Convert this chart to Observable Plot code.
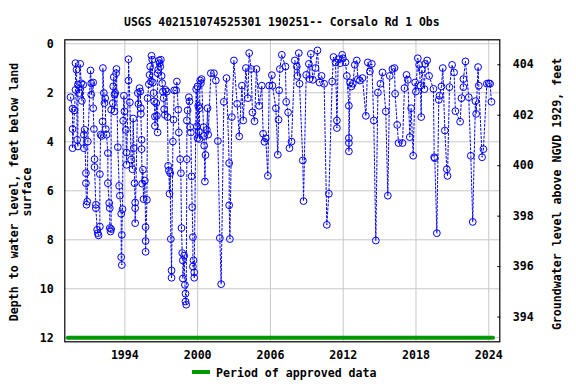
<!DOCTYPE html>
<html><head><meta charset="utf-8">
<script src="https://cdn.jsdelivr.net/npm/d3@7"></script>
<script src="https://cdn.jsdelivr.net/npm/@observablehq/plot@0.6"></script>
<style>
html,body{margin:0;padding:0;background:#fff;}
#wrap{position:relative;width:576px;height:384px;overflow:hidden;background:#fff;}
#wrap svg{position:absolute;left:0;top:0;}
</style></head><body><div id="wrap"></div>
<script>
// ---- data (decimal year, depth to water in feet below land surface) ----
const years = [
1989.52,1989.69,1989.69,1989.69,1989.85,1989.93,1989.93,1990.02,1990.07,1990.13,
1990.13,1990.26,1990.32,1990.40,1990.46,1990.57,1990.62,1990.62,1990.68,1990.79,
1990.79,1990.84,1990.90,1990.95,1991.17,1991.23,1991.23,1991.39,1991.39,1991.45,
1991.50,1991.50,1991.61,1991.61,1991.72,1991.77,1991.83,1991.94,1991.94,1992.00,
1992.10,1992.16,1992.19,1992.27,1992.32,1992.38,1992.43,1992.49,1992.60,1992.60,
1992.71,1992.76,1992.76,1992.82,1992.87,1992.87,1993.01,1993.04,1993.09,1993.15,
1993.15,1993.20,1993.28,1993.31,1993.42,1993.53,1993.59,1993.70,1993.70,1993.75,
1993.75,1993.81,1993.86,1993.92,1993.97,1994.08,1994.14,1994.14,1994.30,1994.30,
1994.41,1994.52,1994.63,1994.69,1994.74,1994.80,1994.85,1994.85,1994.85,1995.07,
1995.12,1995.21,1995.27,1995.32,1995.32,1995.38,1995.38,1995.43,1995.49,1995.54,
1995.65,1995.71,1995.71,1995.71,1995.82,1995.87,1995.98,1996.04,1996.09,1996.15,
1996.20,1996.26,1996.31,1996.37,1996.42,1996.48,1996.48,1996.59,1996.64,1996.70,
1996.70,1996.75,1996.81,1996.86,1996.92,1996.97,1997.03,1997.08,1997.14,1997.19,
1997.24,1997.30,1997.35,1997.46,1997.52,1997.57,1997.63,1997.68,1997.74,1997.79,
1997.85,1997.85,1997.96,1998.01,1998.07,1998.23,1998.29,1998.40,1998.45,1998.56,
1998.62,1998.67,1998.73,1998.78,1998.78,1998.89,1998.95,1999.00,1999.00,1999.06,
1999.11,1999.11,1999.17,1999.28,1999.33,1999.39,1999.44,1999.50,1999.55,1999.61,
1999.61,1999.66,1999.72,1999.72,1999.88,1999.94,1999.99,1999.99,2000.05,2000.10,
2000.16,2000.16,2000.21,2000.27,2000.32,2000.49,2000.54,2000.54,2000.60,2000.65,
2000.76,2000.82,2000.87,2001.09,
2001.34,2001.50,2001.67,2001.83,2001.94,2002.16,2002.38,2002.60,2002.60,2002.66,
2002.82,2002.99,2003.26,2003.43,2003.65,2003.76,2003.98,2004.14,2004.25,2004.41,
2004.52,2004.69,2004.85,2005.07,2005.29,2005.40,2005.51,2005.62,2005.79,2005.90,
2006.12,2006.17,2006.45,2006.61,2006.67,2006.72,2006.78,2006.94,
2007.24,2007.30,2007.46,2007.57,2007.74,2008.01,2008.18,2008.23,2008.34,2008.40,
2008.67,2008.73,2008.95,2009.17,2009.22,2009.33,2009.50,2009.72,2009.88,2010.05,
2010.21,2010.43,2010.65,2010.82,2011.09,2011.20,2011.37,2011.48,2011.48,2011.59,
2011.75,2011.92,2011.97,2012.19,2012.30,2012.47,2012.47,2012.47,2012.47,2012.57,
2012.68,2012.79,2012.96,2013.12,
2013.21,2013.37,2013.59,2013.87,2014.03,2014.20,2014.36,2014.52,2014.69,2014.86,
2015.07,2015.24,2015.51,2015.68,2015.84,2016.06,2016.23,2016.28,2016.45,2016.56,
2016.89,2017.05,2017.22,2017.33,2017.49,2017.60,2017.77,2017.93,2017.99,2018.15,
2018.26,2018.37,2018.43,2018.48,2018.70,2018.76,2018.92,2019.08,
2019.44,2019.50,2019.55,2019.72,2019.88,2019.94,2020.10,2020.21,2020.38,2020.54,
2020.60,2020.76,2020.98,2021.14,2021.25,2021.64,2021.75,2021.91,2021.91,2022.08,
2022.35,2022.52,2022.68,2022.90,2022.96,2023.12,2023.18,2023.45,2023.56,2023.84,
2024.00,2024.11,2024.22
];
const depths = [
2.18,2.65,3.48,4.26,2.72,1.88,0.79,1.06,3.92,4.19,
1.67,2.01,0.82,1.61,2.33,1.67,3.71,4.26,3.51,5.28,
5.69,6.57,6.44,3.99,1.09,1.61,2.08,1.58,2.63,3.48,
4.71,5.03,6.57,6.71,7.59,7.73,7.82,7.46,5.32,3.71,
3.76,3.17,0.99,2.01,2.42,2.22,3.48,3.71,4.46,5.69,
6.50,6.71,7.52,7.66,7.56,2.69,2.42,1.74,1.36,2.08,
2.76,2.01,1.20,1.03,4.22,5.80,6.20,6.94,8.71,9.03,
7.80,6.75,3.14,2.12,2.76,3.51,4.44,4.94,1.50,0.63,
2.39,4.73,5.12,3.05,4.26,5.69,6.48,6.71,7.32,2.01,
2.46,1.81,1.95,2.63,2.86,3.92,4.30,5.71,5.14,6.34,
5.58,7.48,8.05,8.49,6.37,2.22,1.65,1.27,0.93,1.54,
0.49,0.65,1.58,2.01,2.35,2.97,3.35,2.42,2.94,3.62,
1.20,1.06,0.68,0.79,0.93,0.65,1.31,1.61,1.95,2.22,
2.67,2.90,1.88,1.95,2.99,4.98,5.17,6.12,5.28,7.97,
9.25,9.55,3.99,3.10,1.90,1.90,1.54,2.69,3.62,4.71,
5.28,7.52,8.54,8.84,9.58,8.65,9.84,10.20,10.52,10.65,
4.71,3.13,2.72,2.18,2.35,3.40,3.62,5.41,6.67,7.89,
9.09,8.84,9.33,9.55,1.85,3.37,3.85,1.74,2.53,3.58,
3.89,2.63,1.50,1.61,1.44,3.40,3.76,4.16,5.62,4.54,
3.51,2.63,3.71,1.20,
1.20,1.50,3.97,7.93,9.81,2.37,1.40,4.87,6.59,7.97,
2.99,0.68,2.45,3.78,1.71,3.13,0.99,2.22,0.38,1.03,
2.80,3.16,1.03,2.53,1.71,3.67,4.00,3.86,5.39,1.71,
1.28,1.71,2.63,4.53,3.10,1.90,1.03,0.45,
0.93,2.37,2.80,4.26,3.99,0.68,0.93,1.31,0.38,1.63,
4.76,6.42,1.27,0.82,1.44,0.41,1.47,0.99,0.27,1.58,
1.31,1.63,7.39,6.12,1.54,0.54,0.76,3.13,3.44,0.63,
0.79,0.45,0.59,0.76,1.31,2.53,3.85,4.05,4.39,1.58,
1.74,1.63,0.86,0.68,
1.44,1.50,1.40,2.94,0.76,1.13,0.82,3.13,8.03,1.99,
1.63,1.17,2.76,6.20,1.31,1.03,0.99,2.04,3.31,4.05,
4.05,1.81,1.27,1.47,3.81,2.63,4.57,1.58,1.95,0.59,
0.86,1.71,2.99,1.06,1.85,0.82,0.68,1.31,
1.84,4.63,4.67,7.73,2.29,2.12,1.74,0.99,3.54,5.12,
5.39,1.77,0.86,1.17,2.75,3.18,2.22,1.77,1.44,0.72,
2.18,4.57,7.27,2.34,2.86,0.95,1.71,4.63,4.30,1.63,
1.61,1.63,2.37
];
// period of approved data
const periodStart = 1989.3, periodEnd = 2024.35, periodDepth = 12;
// axis ticks
const xTicks = [1994, 2000, 2006, 2012, 2018, 2024];
const depthTicks = [0, 2, 4, 6, 8, 10, 12];
const elevTicks = [394, 396, 398, 400, 402, 404];
const titleText = "USGS 402151074525301 190251-- Corsalo Rd 1 Obs";
const leftTitle = ["Depth to water level, feet below land", "surface"];
const rightTitle = "Groundwater level above NGVD 1929, feet";
const legendText = "Period of approved data";

// ---- build ----
const n = Math.min(years.length, depths.length);
const data = d3.range(n).map(i => ({t: years[i], d: depths[i]}));
const period = [{t: periodStart, d: periodDepth}, {t: periodEnd, d: periodDepth}];

const W = 576, H = 384;
const M = {top: 39.3, right: 76.7, bottom: 42.7, left: 64.3};
const font = "DejaVu Sans Mono";
const style = {fontFamily: font, fontSize: "11.6px", fontWeight: "bold", background: "transparent", color: "black", overflow: "visible"};
const xDomain = [1989.05, 2024.91];
const grid = "#c8c8c8";

const main = Plot.plot({
  width: W, height: H,
  marginTop: M.top, marginRight: M.right, marginBottom: M.bottom, marginLeft: M.left,
  style,
  x: {domain: xDomain},
  y: {domain: [-0.163, 12.163], reverse: true},
  marks: [
    Plot.gridX(xTicks, {stroke: grid, strokeOpacity: 1, strokeWidth: 1}),
    Plot.gridY(depthTicks, {stroke: grid, strokeOpacity: 1, strokeWidth: 1}),
    Plot.line(period, {x: "t", y: "d", stroke: "#009900", strokeWidth: 4}),
    Plot.line(data, {x: "t", y: "d", stroke: "#0000ff", strokeWidth: 1, strokeDasharray: "2,2"}),
    Plot.dot(data, {x: "t", y: "d", r: 3.4, stroke: "#0000ff", fill: "none", strokeWidth: 1}),
    Plot.frame({stroke: "black", strokeWidth: 1.2}),
    Plot.axisX(xTicks, {tickSize: 0, tickPadding: 9, tickFormat: d => String(d), label: null}),
    Plot.axisY(depthTicks, {tickSize: 0, tickPadding: 11, tickFormat: d => String(d), label: null})
  ]
});

const right = Plot.plot({
  width: W, height: H,
  marginTop: M.top, marginRight: M.right, marginBottom: M.bottom, marginLeft: M.left,
  style,
  y: {domain: [393.02, 404.99]},
  marks: [
    Plot.axisY(elevTicks, {anchor: "right", tickSize: 0, tickPadding: 13, tickFormat: d => String(d), label: null}),
    Plot.axisY(elevTicks, {anchor: "right", tickSize: -3, tickPadding: 0, tickFormat: () => "", label: null, stroke: "black"})
  ]
});

const wrap = document.getElementById("wrap");
wrap.appendChild(main);
wrap.appendChild(right);

const ann = d3.create("svg").attr("width", W).attr("height", H)
  .style("font-family", font).style("font-weight", "bold").style("font-size", "11.6px");
const cx = (M.left + (W - M.right)) / 2;
ann.append("text").attr("x", cx).attr("y", 26.4).attr("text-anchor", "middle")
  .style("font-size", "11.4px").text(titleText);
ann.append("text").attr("transform", "translate(17.5,192) rotate(-90)").attr("text-anchor", "middle").text(leftTitle[0]);
ann.append("text").attr("transform", "translate(30.5,192) rotate(-90)").attr("text-anchor", "middle").text(leftTitle[1]);
ann.append("text").attr("transform", "translate(561,194) rotate(-90)").attr("text-anchor", "middle").text(rightTitle);
ann.append("line").attr("x1", 192).attr("x2", 210).attr("y1", 372).attr("y2", 372)
  .attr("stroke", "#009900").attr("stroke-width", 4);
ann.append("text").attr("x", 216).attr("y", 376.5).text(legendText);
wrap.appendChild(ann.node());
</script></body></html>
